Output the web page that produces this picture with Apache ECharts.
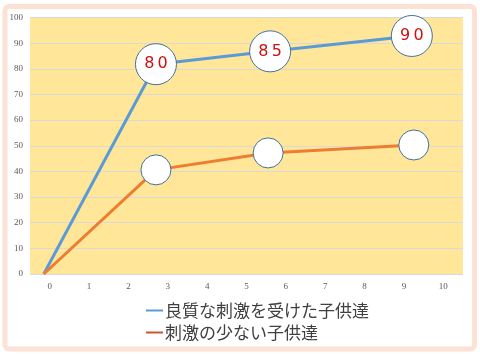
<!DOCTYPE html>
<html>
<head>
<meta charset="utf-8">
<script src="https://cdn.jsdelivr.net/npm/echarts@6/dist/echarts.min.js"></script>
<style>html,body{margin:0;padding:0;background:#fff;}#c{width:480px;height:355px;}</style>
</head>
<body>
<div id="c"></div>
<script>
var xTickLabels = ['0','1','2','3','4','5','6','7','8','9','10'];
var seriesNames = ['良質な刺激を受けた子供達', '刺激の少ない子供達'];
var goodX = [-0.15, 2.7, 5.6, 9.2];
var goodY = [0, 81.8, 86.8, 92.8];
var goodLabels = ['', '80', '85', '90'];
var poorX = [-0.15, 2.7, 5.55, 9.25];
var poorY = [0, 40.6, 47.2, 50.3];

function build(xs, ys, size, labels) {
  return xs.map(function (x, i) {
    var item = { value: [x, ys[i]] };
    if (i === 0) { item.symbol = 'none'; }
    else { item.symbolSize = size; }
    if (labels) { item.label = { show: labels[i] !== '', formatter: labels[i].split('').join('\u2009') }; }
    return item;
  });
}

var chart = echarts.init(document.getElementById('c'), null, { renderer: 'canvas' });
chart.setOption({
  backgroundColor: '#ffffff',
  animation: false,
  graphic: [{
    type: 'rect', z: -10,
    shape: { x: 5, y: 6.5, width: 469.5, height: 342.5, r: 4 },
    style: { fill: 'none', stroke: '#fbe2d4', lineWidth: 5 }
  }],
  grid: { left: 30, right: 17, top: 17.5, bottom: 81, show: true, backgroundColor: '#ffe699', borderWidth: 0 },
  xAxis: [{
    type: 'category', data: xTickLabels, boundaryGap: true,
    axisLine: { show: false }, axisTick: { show: false },
    axisLabel: { color: '#595959', fontFamily: 'Liberation Serif', fontSize: 9, margin: 8 }
  }, {
    type: 'value', min: -0.5, max: 10.5, show: false
  }],
  yAxis: {
    type: 'value', min: 0, max: 100, interval: 10,
    axisLine: { show: false }, axisTick: { show: false },
    axisLabel: { color: '#595959', fontFamily: 'Liberation Serif', fontSize: 9, margin: 7 },
    splitLine: { lineStyle: { color: '#d9d9d9', width: 1 } }
  },
  legend: {
    orient: 'vertical', left: 141, top: 296, itemGap: 3, itemWidth: 17, itemHeight: 2,
    icon: 'rect',
    textStyle: { color: '#404040', fontSize: 17, fontFamily: 'Noto Sans CJK JP', lineHeight: 19, padding: [0, 0, 0, -3] },
    data: [
      { name: seriesNames[0], itemStyle: { color: '#5b9bd5', borderWidth: 0, borderColor: '#5b9bd5' } },
      { name: seriesNames[1], itemStyle: { color: '#d0542a', borderWidth: 0, borderColor: '#d0542a' } }
    ]
  },
  series: [{
    name: seriesNames[0], type: 'line', xAxisIndex: 1,
    data: build(goodX, goodY, 41, goodLabels),
    symbol: 'circle', showAllSymbol: true,
    lineStyle: { color: '#5b9bd5', width: 3 },
    itemStyle: { color: '#ffffff', borderColor: '#41719c', borderWidth: 1 },
    label: { position: 'inside', color: '#cc1111', fontSize: 16, fontFamily: 'DejaVu Sans' }
  }, {
    name: seriesNames[1], type: 'line', xAxisIndex: 1,
    data: build(poorX, poorY, 30, null),
    symbol: 'circle', showAllSymbol: true,
    lineStyle: { color: '#ed7d31', width: 3 },
    itemStyle: { color: '#ffffff', borderColor: '#41719c', borderWidth: 1 }
  }]
});
</script>
</body>
</html>
